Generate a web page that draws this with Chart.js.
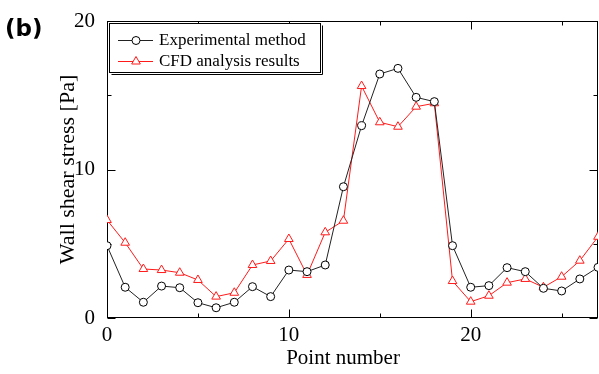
<!DOCTYPE html>
<html>
<head>
<meta charset="utf-8">
<script src="https://cdn.jsdelivr.net/npm/chart.js@4.4.0/dist/chart.umd.min.js"></script>
<style>
html, body { margin: 0; padding: 0; background: #fff; overflow: hidden; }
canvas { display: block; }
</style>
</head>
<body>
<canvas id="grafico" width="599" height="374"></canvas>
<script>
// --- DADOS ---
const POINT_NUMBERS = [0, 1, 2, 3, 4, 5, 6, 7, 8, 9, 10, 11, 12, 13, 14, 15, 16, 17, 18, 19, 20, 21, 22, 23, 24, 25, 26, 27];
const EXPERIMENTAL = [4.87, 2.07, 1.06, 2.15, 2.04, 1.03, 0.69, 1.06, 2.11, 1.44, 3.23, 3.12, 3.57, 8.84, 12.95, 16.43, 16.81, 14.86, 14.57, 4.87, 2.07, 2.18, 3.39, 3.12, 2.0, 1.82, 2.63, 3.41];
const CFD = [6.6, 5.07, 3.3, 3.23, 3.05, 2.56, 1.44, 1.7, 3.57, 3.84, 5.32, 2.9, 5.77, 6.55, 15.62, 13.18, 12.88, 14.23, 14.46, 2.49, 1.1, 1.5, 2.38, 2.63, 2.07, 2.78, 3.86, 5.47];
const SERIES_LABELS = ['Experimental method', 'CFD analysis results'];
const X_TICKS = [0, 10, 20];
const X_MINOR = [5, 15, 25];
const Y_TICKS = [0, 10, 20];
const Y_MINOR = [5, 15];

const SERIF = "'Liberation Serif', 'Times New Roman', serif";
const COR_PRETO = '#222';
const COR_VERMELHO = '#ff1a1a';

function pontos(valores) {
    return POINT_NUMBERS.map((x, i) => ({ x: x, y: valores[i] }));
}

// moldura com ticks para dentro, nos quatro lados
const molduraPlugin = {
    id: 'moldura',
    beforeDatasetsDraw(chart) {
        const { ctx, chartArea: a, scales: { x, y } } = chart;
        const l = Math.round(a.left) + 0.5, r = Math.round(a.right) - 0.5;
        const t = Math.round(a.top) + 0.5, b = Math.round(a.bottom) - 0.5;
        ctx.save();
        ctx.strokeStyle = '#000';
        ctx.lineWidth = 1;
        ctx.strokeRect(l, t, r - l, b - t);
        ctx.beginPath();
        const tickX = (v, len) => {
            const px = Math.round(x.getPixelForValue(v)) + 0.5;
            ctx.moveTo(px, b); ctx.lineTo(px, b - len);
            ctx.moveTo(px, t); ctx.lineTo(px, t + len);
        };
        const tickY = (v, len) => {
            const py = Math.round(y.getPixelForValue(v)) + 0.5;
            ctx.moveTo(l, py); ctx.lineTo(l + len, py);
            ctx.moveTo(r, py); ctx.lineTo(r - len, py);
        };
        X_TICKS.forEach(v => tickX(v, 8));
        X_MINOR.forEach(v => tickX(v, 4));
        Y_TICKS.forEach(v => tickY(v, 8));
        Y_MINOR.forEach(v => tickY(v, 4));
        ctx.stroke();
        ctx.restore();
    }
};

// legenda dentro do gráfico, caixa com sombra
const legendaPlugin = {
    id: 'legenda',
    afterDraw(chart) {
        const ctx = chart.ctx;
        const bx = 109.5, by = 23.5, bw = 211, bh = 49;
        ctx.save();
        ctx.fillStyle = '#fff';
        ctx.fillRect(bx, by, bw, bh);
        ctx.strokeStyle = '#000';
        ctx.lineWidth = 1;
        ctx.strokeRect(bx, by, bw, bh);
        ctx.beginPath();
        ctx.moveTo(bx + 2, by + bh + 2);
        ctx.lineTo(bx + bw + 2, by + bh + 2);
        ctx.lineTo(bx + bw + 2, by + 2);
        ctx.stroke();

        const linhas = [40, 61];
        chart.data.datasets.forEach((ds, i) => {
            const yy = linhas[i] + 0.5;
            ctx.strokeStyle = ds.borderColor;
            ctx.beginPath();
            ctx.moveTo(118, yy);
            ctx.lineTo(153, yy);
            ctx.stroke();
            ctx.fillStyle = ds.pointBackgroundColor;
            ctx.strokeStyle = ds.pointBorderColor;
            Chart.helpers.drawPoint(ctx, { pointStyle: ds.pointStyle, radius: ds.pointRadius, borderWidth: 1, rotation: 0 }, 136, yy);
            ctx.fillStyle = '#000';
            ctx.font = '17px ' + SERIF;
            ctx.textBaseline = 'middle';
            ctx.textAlign = 'left';
            ctx.fillText(SERIES_LABELS[i], 159, linhas[i] + 1);
        });

        // rótulo do painel e título do eixo x
        ctx.fillStyle = '#000';
        ctx.font = "bold 23px 'DejaVu Sans', sans-serif";
        ctx.textAlign = 'left';
        ctx.textBaseline = 'middle';
        ctx.fillText('(b)', 5, 30);
        ctx.font = '21px ' + SERIF;
        ctx.textAlign = 'center';
        ctx.fillText('Point number', 343, 358);
        ctx.restore();
    }
};

new Chart(document.getElementById('grafico').getContext('2d'), {
    type: 'line',
    data: {
        datasets: [
            {
                label: SERIES_LABELS[0],
                data: pontos(EXPERIMENTAL),
                borderColor: COR_PRETO,
                borderWidth: 1,
                pointStyle: 'circle',
                pointRadius: 4,
                pointBackgroundColor: '#fff',
                pointBorderColor: '#000',
                pointBorderWidth: 1,
                tension: 0
            },
            {
                label: SERIES_LABELS[1],
                data: pontos(CFD),
                borderColor: COR_VERMELHO,
                borderWidth: 1,
                pointStyle: 'triangle',
                pointRadius: 5,
                pointBackgroundColor: '#fff',
                pointBorderColor: COR_VERMELHO,
                pointBorderWidth: 1,
                tension: 0
            }
        ]
    },
    options: {
        responsive: false,
        animation: false,
        devicePixelRatio: 1,
        layout: { autoPadding: false, padding: { top: 21, right: 1, left: 0, bottom: 0 } },
        plugins: { legend: { display: false }, tooltip: { enabled: false } },
        scales: {
            x: {
                type: 'linear',
                min: 0,
                max: 27,
                afterBuildTicks: s => { s.ticks = X_TICKS.map(v => ({ value: v })); },
                afterFit: s => { s.height = 56; s.paddingLeft = 0; s.paddingRight = 0; },
                grid: { display: false },
                border: { display: false },
                ticks: { color: '#000', padding: -3, maxRotation: 0, font: { family: SERIF, size: 21 } }
            },
            y: {
                min: 0,
                max: 20,
                afterBuildTicks: s => { s.ticks = Y_TICKS.map(v => ({ value: v })); },
                afterFit: s => { s.width = 107; },
                grid: { display: false },
                border: { display: false },
                ticks: { color: '#000', padding: 4, font: { family: SERIF, size: 21 } },
                title: {
                    display: true,
                    text: 'Wall shear stress [Pa]',
                    color: '#000',
                    font: { family: SERIF, size: 22 },
                    padding: { top: 55, bottom: 0 }
                }
            }
        }
    },
    plugins: [molduraPlugin, legendaPlugin]
});
</script>
</body>
</html>
